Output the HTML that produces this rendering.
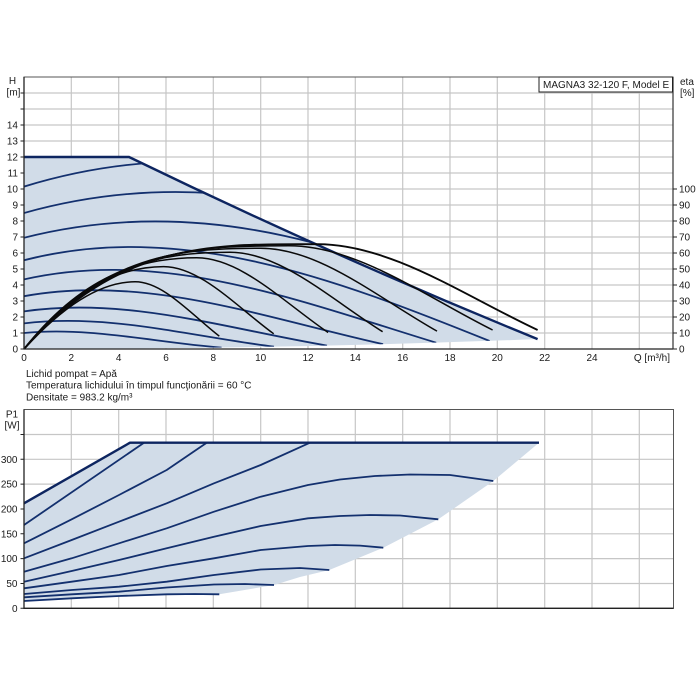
<!DOCTYPE html>
<html><head><meta charset="utf-8"><style>
html,body{margin:0;padding:0;background:#fff;}
svg{display:block;}
text{font-family:"Liberation Sans",Arial,sans-serif;font-size:10px;fill:#1a1a1a;}
</style></head><body>
<svg width="700" height="700" viewBox="0 0 700 700" xmlns="http://www.w3.org/2000/svg">
<rect width="700" height="700" fill="#fff"/>
<defs>
<clipPath id="topclip"><path d="M24,349 L24,157 L129,157 Q333.3,256 537.6,339.1 Q280.8,349 24,349 Z"/></clipPath>
</defs>

<!-- TOP CHART GRID -->
<g stroke="#c6c6c6" stroke-width="1.2" fill="none">
<path d="M24,333H673M24,317H673M24,301H673M24,285H673M24,269H673M24,253H673M24,237H673M24,221H673M24,205H673M24,189H673M24,173H673M24,157H673M24,141H673M24,125H673M24,109H673M24,93H673"/>
<path d="M71.3,77V349M118.7,77V349M166,77V349M213.3,77V349M260.7,77V349M308,77V349M355.3,77V349M402.7,77V349M450,77V349M497.3,77V349M544.7,77V349M592,77V349M639.3,77V349"/>
</g>

<!-- TOP SHADING -->
<path d="M24,349 L24,157 L129,157 Q333.3,256 537.6,339.1 Q280.8,349 24,349 Z" fill="#d1dce8"/>

<!-- blue speed curves -->
<g clip-path="url(#topclip)" fill="none" stroke="#13306e" stroke-width="1.8">
<path d="M24,186.6 C235.1,121.6 442.5,186.6 653.6,334.4"/>
<path d="M24,213 C217.2,158.6 406.9,213 600.1,336.8"/>
<path d="M24,237.8 C198.7,193.3 370.2,243.4 544.9,339"/>
<path d="M24,260.2 C180.1,220.2 333.5,278 489.6,341"/>
<path d="M24,279.4 C162.2,248.1 298,300.3 436.2,342.7"/>
<path d="M24,296.2 C144.4,274 262.7,317.3 383.1,344.2"/>
<path d="M24,311.4 C125.6,296.4 225.4,328.3 327,345.6"/>
<path d="M24,323.4 C107.8,313.2 190.2,336.2 274,346.7"/>
<path d="M24,333 C90.3,326.6 155.4,342.6 221.6,347.6"/>
</g>
<!-- max boundary -->
<path d="M24,157 L129,157 Q333.3,256 537.6,339.1" fill="none" stroke="#0d2560" stroke-width="2.4"/>

<!-- black efficiency curves -->
<g fill="none" stroke="#0a0a0a" stroke-width="1.5">
<path d="M24,349 C61.1,308.7 98.2,281.8 135.2,281.8 C163.2,281.8 191.2,314.4 219.3,336.2"/>
<path d="M24,349 C70.5,291.3 117.1,266.6 163.6,266.6 C200.3,266.6 237,306.9 273.7,333.8"/>
<path d="M24,349 C81.6,276 139.2,257.8 196.8,257.8 C240.6,257.8 284.3,302.6 328.1,332.5"/>
<path d="M24,349 C92.6,263.8 161.3,252.2 229.9,252.2 C280.8,252.2 331.7,299.9 382.6,331.7"/>
<path d="M24,349 C102.9,253.2 181.8,248.2 260.7,248.2 C319.4,248.2 378.2,297.9 437,331.1"/>
<path d="M24,349 C112.4,245.8 200.7,245.8 289.1,245.8 C356.9,245.8 424.8,296.3 492.6,330"/>
<path d="M24,349 C121.8,239 219.7,244.2 317.5,244.2 C390.8,244.2 464.2,295.7 537.6,330" stroke-width="1.9"/>
</g>

<!-- TOP FRAME -->
<rect x="24" y="77" width="649" height="272" fill="none" stroke="#555" stroke-width="1"/>
<path d="M24,77V349H673" fill="none" stroke="#222" stroke-width="1.3"/>
<path d="M673,77V349" fill="none" stroke="#333" stroke-width="1.2"/>
<!-- left ticks -->
<g stroke="#222" stroke-width="1">
<path d="M20.5,349H24M20.5,333H24M20.5,317H24M20.5,301H24M20.5,285H24M20.5,269H24M20.5,253H24M20.5,237H24M20.5,221H24M20.5,205H24M20.5,189H24M20.5,173H24M20.5,157H24M20.5,141H24M20.5,125H24M20.5,109H24M20.5,93H24"/>
<path d="M673,349H677M673,333H677M673,317H677M673,301H677M673,285H677M673,269H677M673,253H677M673,237H677M673,221H677M673,205H677M673,189H677"/>
</g>
<!-- legend box -->
<rect x="539" y="77" width="133.5" height="15" fill="#fff" stroke="#222" stroke-width="1"/>
<text x="543" y="88">MAGNA3 32-120 F, Model E</text>

<!-- top labels -->
<text x="12.5" y="84" text-anchor="middle">H</text>
<text x="13.5" y="95.5" text-anchor="middle">[m]</text>
<text x="680" y="85">eta</text>
<text x="680" y="96">[%]</text>
<g text-anchor="end">
<text x="18" y="352.6">0</text><text x="18" y="336.6">1</text><text x="18" y="320.6">2</text><text x="18" y="304.6">3</text><text x="18" y="288.6">4</text><text x="18" y="272.6">5</text><text x="18" y="256.6">6</text><text x="18" y="240.6">7</text><text x="18" y="224.6">8</text><text x="18" y="208.6">9</text><text x="18" y="192.6">10</text><text x="18" y="176.6">11</text><text x="18" y="160.6">12</text><text x="18" y="144.6">13</text><text x="18" y="128.6">14</text>
</g>
<g>
<text x="679" y="352.6">0</text><text x="679" y="336.6">10</text><text x="679" y="320.6">20</text><text x="679" y="304.6">30</text><text x="679" y="288.6">40</text><text x="679" y="272.6">50</text><text x="679" y="256.6">60</text><text x="679" y="240.6">70</text><text x="679" y="224.6">80</text><text x="679" y="208.6">90</text><text x="679" y="192.6">100</text>
</g>
<g text-anchor="middle">
<text x="24" y="361">0</text><text x="71.3" y="361">2</text><text x="118.7" y="361">4</text><text x="166" y="361">6</text><text x="213.3" y="361">8</text><text x="260.7" y="361">10</text><text x="308" y="361">12</text><text x="355.3" y="361">14</text><text x="402.7" y="361">16</text><text x="450" y="361">18</text><text x="497.3" y="361">20</text><text x="544.7" y="361">22</text><text x="592" y="361">24</text>
</g>
<text x="670" y="361" text-anchor="end">Q [m³/h]</text>

<text x="26" y="377">Lichid pompat = Apă</text>
<text x="26" y="388.6">Temperatura lichidului în timpul funcţionării = 60 °C</text>
<text x="26" y="400.3">Densitate = 983.2 kg/m³</text>

<!-- BOTTOM CHART GRID -->
<g stroke="#c6c6c6" stroke-width="1.2" fill="none">
<path d="M24,583.5H673M24,558.6H673M24,533.8H673M24,509H673M24,484.1H673M24,459.3H673M24,434.5H673"/>
<path d="M71.3,409V608M118.7,409V608M166,409V608M213.3,409V608M260.7,409V608M308,409V608M355.3,409V608M402.7,409V608M450,409V608M497.3,409V608M544.7,409V608M592,409V608M639.3,409V608"/>
</g>
<!-- bottom shading -->
<polygon points="24,503.3 130,442.7 539,442.7 516,462 493.3,481 438.3,519.3 383.3,547.7 329.3,570 300,577 274,585 219.3,594.3 195,594 166.7,594.3 119,596 71.7,598.3 24,601" fill="#d1dce8"/>
<g fill="none" stroke="#13306e" stroke-width="1.8" stroke-linejoin="round">
<polyline points="24,525 144,442.7"/>
<polyline points="24,543.3 71.7,519.3 119,495 166.7,470 206.7,442.7"/>
<polyline points="24,558.3 71.7,540 119,521.7 166.7,503.3 214,483.3 260.7,465 310,442.7"/>
<polyline points="24,571.7 71.7,558.3 119,543.3 166.7,528.3 214,511.7 260.7,496.7 308,485 340,479.5 375,476 410,474.5 450,475 493.3,481"/>
<polyline points="24,581.7 71.7,571 119,560 166.7,548.3 214,536.7 260.7,526 308,518.3 340,516 370,515 400,515.5 438.3,519.3"/>
<polyline points="24,588.3 71.7,581.7 119,575 166.7,566 214,558.3 260.7,550 308,546 335,545 360,545.6 383.3,547.7"/>
<polyline points="24,594 71.7,590 119,586.7 166.7,581.7 214,575 260.7,569.5 300,568 329.3,570"/>
<polyline points="24,597.3 71.7,594.3 119,591.7 166.7,587.5 214,584.5 245,584 274,585"/>
<polyline points="24,601 71.7,598.3 119,596 166.7,594.3 195,594 219.3,594.3"/>
</g>
<polyline points="24,503.3 130,442.7 539,442.7" fill="none" stroke="#0d2560" stroke-width="2.4" stroke-linejoin="round"/>

<!-- BOTTOM FRAME -->
<rect x="24" y="409.5" width="649.5" height="198.8" fill="none" stroke="#555" stroke-width="1"/>
<path d="M24,409.5V608.3H673.5" fill="none" stroke="#222" stroke-width="1.3"/>
<g stroke="#222" stroke-width="1">
<path d="M20.5,608.3H24M20.5,583.5H24M20.5,558.6H24M20.5,533.8H24M20.5,509H24M20.5,484.1H24M20.5,459.3H24M20.5,434.5H24"/>
</g>
<text x="12" y="417.5" text-anchor="middle">P1</text>
<text x="12" y="428.5" text-anchor="middle">[W]</text>
<g text-anchor="end">
<text x="17.5" y="611.9">0</text><text x="17.5" y="587.1">50</text><text x="17.5" y="562.2">100</text><text x="17.5" y="537.4">150</text><text x="17.5" y="512.6">200</text><text x="17.5" y="487.7">250</text><text x="17.5" y="462.9">300</text>
</g>
</svg>
</body></html>
